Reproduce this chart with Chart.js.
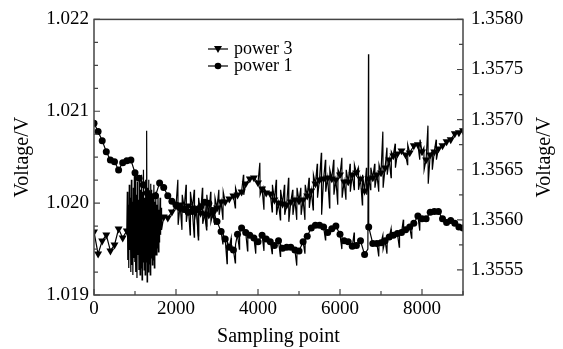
<!DOCTYPE html>
<html>
<head>
<meta charset="utf-8">
<script src="https://cdn.jsdelivr.net/npm/chart.js@4/dist/chart.umd.min.js"></script>
<style>
    html, body { margin: 0; padding: 0; background: #fff; }
    canvas { display: block; }
</style>
</head>
<body>
<canvas id="voltage-chart" width="563" height="349"></canvas>
<script>
// tick labels
let xTicks = [0, 2000, 4000, 6000, 8000];
let leftTicks = [1.019, 1.020, 1.021, 1.022];
let rightTicks = [1.3555, 1.3560, 1.3565, 1.3570, 1.3575, 1.3580];

// [sampling point, voltage] - markers sit on multiples of 100, other samples are raw spikes
let power1 = [
    [0,1.02087],[100,1.02078],[200,1.02068],[300,1.02056],[400,1.02047],[500,1.02045],[600,1.02036],[700,1.02044],
    [800,1.02046],[900,1.02047],[1000,1.02033],[1100,1.02027],[1200,1.02020],[1300,1.02011],[1400,1.02007],[1500,1.02008],
    [1600,1.02022],[1700,1.02017],[1800,1.02008],[1900,1.02002],[2000,1.01998],[2100,1.01995],[2200,1.01993],[2300,1.01990],
    [2400,1.01991],[2445,1.01963],[2452,1.01990],[2500,1.01993],[2545,1.01960],[2552,1.01994],[2600,1.01996],[2700,1.02001],
    [2745,1.01975],[2752,1.02000],[2800,1.02000],[2900,1.01992],[3000,1.01980],[3100,1.01969],[3145,1.01955],[3152,1.01966],
    [3200,1.01961],[3245,1.01934],[3252,1.01958],[3300,1.01952],[3345,1.01962],[3352,1.01950],[3400,1.01949],[3445,1.01935],
    [3452,1.01955],[3500,1.01966],[3545,1.01950],[3552,1.01968],[3600,1.01973],[3700,1.01968],[3745,1.01948],[3752,1.01966],
    [3800,1.01965],[3900,1.01962],[3945,1.01945],[3952,1.01960],[4000,1.01958],[4100,1.01965],[4145,1.01948],[4152,1.01962],
    [4200,1.01961],[4300,1.01958],[4345,1.01945],[4352,1.01956],[4400,1.01954],[4500,1.01959],[4545,1.01942],[4552,1.01955],
    [4600,1.01951],[4700,1.01952],[4800,1.01952],[4900,1.01949],[4945,1.01932],[4952,1.01948],[5000,1.01948],[5100,1.01958],
    [5145,1.01945],[5152,1.01960],[5200,1.01964],[5300,1.01973],[5400,1.01976],[5500,1.01976],[5600,1.01974],[5645,1.01960],
    [5652,1.01972],[5700,1.01968],[5800,1.01972],[5900,1.01975],[6000,1.01966],[6045,1.01950],[6052,1.01962],[6100,1.01959],
    [6200,1.01958],[6300,1.01953],[6345,1.01968],[6352,1.01955],[6400,1.01954],[6500,1.01959],[6600,1.01944],[6680,1.01950],
    [6695,1.02162],[6700,1.01974],[6800,1.01956],[6900,1.01956],[6945,1.01942],[6952,1.01956],[7000,1.01957],[7045,1.01965],
    [7052,1.01950],[7100,1.01959],[7145,1.01945],[7152,1.01960],[7200,1.01963],[7245,1.01972],[7252,1.01962],[7300,1.01965],
    [7400,1.01967],[7445,1.01952],[7452,1.01968],[7500,1.01968],[7545,1.01982],[7552,1.01968],[7600,1.01971],[7700,1.01974],
    [7745,1.01962],[7752,1.01975],[7800,1.01978],[7900,1.01986],[7945,1.01970],[7952,1.01985],[8000,1.01983],[8100,1.01983],
    [8200,1.01990],[8300,1.01991],[8400,1.01991],[8500,1.01983],[8600,1.01979],[8700,1.01981],[8800,1.01978],[8900,1.01974],
    [9000,1.01973]
];

let power3 = [
    [0,1.35588],[100,1.35566],[200,1.35579],[300,1.35585],[400,1.35569],[500,1.35575],[600,1.35591],[700,1.35582],
    // noisy stretch around 800-1650
    [800,1.35589],[812,1.35628],[824,1.35560],[836,1.35615],[848,1.35552],[860,1.35635],[872,1.35570],[884,1.35622],[896,1.35548],
    [900,1.35585],[912,1.35640],[924,1.35555],[936,1.35618],[948,1.35545],[960,1.35632],[972,1.35562],[984,1.35645],[996,1.35558],
    [1000,1.35595],[1012,1.35648],[1024,1.35548],[1036,1.35625],[1048,1.35542],[1060,1.35638],[1072,1.35565],[1084,1.35620],[1096,1.35550],
    [1100,1.35590],[1112,1.35642],[1124,1.35545],[1136,1.35630],[1148,1.35552],[1160,1.35645],[1172,1.35540],[1184,1.35628],[1196,1.35558],
    [1200,1.35592],[1212,1.35650],[1224,1.35550],[1236,1.35622],[1248,1.35545],[1260,1.35640],[1272,1.35558],[1284,1.35689],[1296,1.35538],
    [1300,1.35575],[1312,1.35632],[1324,1.35548],[1336,1.35640],[1348,1.35556],[1360,1.35625],[1372,1.35545],[1384,1.35636],[1396,1.35562],
    [1400,1.35588],[1412,1.35630],[1424,1.35555],[1436,1.35622],[1448,1.35560],[1460,1.35635],[1472,1.35552],[1484,1.35618],[1496,1.35565],
    [1500,1.35596],[1512,1.35628],[1524,1.35565],[1536,1.35615],[1548,1.35572],[1560,1.35625],[1572,1.35568],[1584,1.35610],[1596,1.35578],
    [1600,1.35600],[1612,1.35622],[1624,1.35585],[1636,1.35612],[1648,1.35590],
    [1700,1.35603],[1800,1.35602],[1900,1.35608],[2000,1.35614],[2045,1.35640],[2052,1.35595],[2100,1.35615],[2145,1.35590],
    [2152,1.35625],[2200,1.35612],[2245,1.35635],[2252,1.35598],[2300,1.35614],[2345,1.35585],[2352,1.35628],[2400,1.35612],
    [2445,1.35630],[2452,1.35600],[2500,1.35610],[2545,1.35584],[2552,1.35622],[2600,1.35607],[2645,1.35632],[2652,1.35596],
    [2700,1.35606],[2745,1.35590],[2752,1.35625],[2800,1.35605],[2845,1.35628],[2852,1.35598],[2900,1.35606],[2945,1.35595],
    [2952,1.35622],[3000,1.35612],[3045,1.35630],[3052,1.35605],[3100,1.35618],[3145,1.35600],[3152,1.35628],[3200,1.35618],
    [3300,1.35621],[3400,1.35624],[3445,1.35612],[3452,1.35632],[3500,1.35625],[3600,1.35628],[3645,1.35645],[3652,1.35625],
    [3700,1.35636],[3800,1.35641],[3900,1.35642],[4000,1.35637],[4045,1.35657],[4052,1.35625],[4100,1.35631],[4145,1.35610],
    [4152,1.35632],[4200,1.35627],[4300,1.35626],[4345,1.35608],[4352,1.35635],[4400,1.35620],[4445,1.35640],[4452,1.35605],
    [4500,1.35617],[4545,1.35600],[4552,1.35630],[4600,1.35616],[4645,1.35635],[4652,1.35605],[4700,1.35615],[4745,1.35642],
    [4752,1.35598],[4800,1.35618],[4845,1.35630],[4852,1.35605],[4900,1.35620],[4945,1.35600],[4952,1.35632],[5000,1.35619],
    [5045,1.35632],[5052,1.35605],[5100,1.35620],[5145,1.35600],[5152,1.35635],[5200,1.35624],[5245,1.35642],[5252,1.35612],
    [5300,1.35629],[5345,1.35610],[5352,1.35645],[5400,1.35636],[5445,1.35656],[5452,1.35622],[5500,1.35640],[5545,1.35667],
    [5552,1.35605],[5600,1.35641],[5645,1.35660],[5652,1.35628],[5700,1.35642],[5745,1.35612],[5752,1.35650],[5800,1.35641],
    [5845,1.35660],[5852,1.35625],[5900,1.35640],[5945,1.35615],[5952,1.35650],[6000,1.35645],[6045,1.35662],[6052,1.35622],
    [6100,1.35638],[6145,1.35620],[6152,1.35650],[6200,1.35638],[6245,1.35656],[6252,1.35628],[6300,1.35645],[6345,1.35630],
    [6352,1.35655],[6400,1.35647],[6445,1.35652],[6452,1.35630],[6500,1.35641],[6545,1.35615],[6552,1.35645],[6600,1.35629],
    [6645,1.35652],[6652,1.35625],[6700,1.35641],[6745,1.35630],[6752,1.35652],[6800,1.35642],[6845,1.35656],[6852,1.35632],
    [6900,1.35645],[6945,1.35628],[6952,1.35655],[7000,1.35647],[7045,1.35688],[7052,1.35632],[7100,1.35652],[7145,1.35672],
    [7152,1.35645],[7200,1.35660],[7245,1.35642],[7252,1.35668],[7300,1.35664],[7345,1.35676],[7352,1.35652],[7400,1.35666],
    [7500,1.35669],[7600,1.35665],[7645,1.35655],[7652,1.35675],[7700,1.35667],[7800,1.35674],[7900,1.35675],[7945,1.35660],
    [7952,1.35680],[8000,1.35668],[8045,1.35672],[8052,1.35650],[8100,1.35660],[8145,1.35694],[8152,1.35636],[8200,1.35665],
    [8245,1.35668],[8252,1.35650],[8300,1.35668],[8345,1.35680],[8352,1.35660],[8400,1.35671],[8500,1.35674],[8600,1.35678],
    [8700,1.35680],[8800,1.35686],[8900,1.35687],[9000,1.35689]
];

let toPoints = (arr) => arr.map(p => ({ x: p[0], y: p[1] }));
let markerOnly = (r) => (ctx) => (ctx.raw && ctx.raw.x % 100 === 0 ? r : 0);

//Box, inward ticks, right title and legend
let frame = {
    id: 'frame',
    afterDraw: (chart) => {
        let ctx = chart.ctx;
        let a = chart.chartArea;
        let sx = chart.scales.x, sl = chart.scales.y, sr = chart.scales.y1;

        ctx.save();
        ctx.strokeStyle = '#444';
        ctx.lineWidth = 1.5;
        ctx.strokeRect(a.left, a.top, a.right - a.left, a.bottom - a.top);

        ctx.lineWidth = 1.2;
        ctx.beginPath();
        for (let v = 0; v <= 9000; v += 1000) {
            let x = sx.getPixelForValue(v);
            let len = v % 2000 === 0 ? 6 : 4;
            ctx.moveTo(x, a.bottom); ctx.lineTo(x, a.bottom - len);
        }
        for (let k = 0; k <= 12; k++) {
            let y = sl.getPixelForValue(1.019 + k * 0.00025);
            let len = k % 4 === 0 ? 6 : 4;
            ctx.moveTo(a.left, y); ctx.lineTo(a.left + len, y);
        }
        for (let k = 0; k <= 10; k++) {
            let y = sr.getPixelForValue(1.3555 + k * 0.00025);
            let len = k % 2 === 0 ? 6 : 4;
            ctx.moveTo(a.right, y); ctx.lineTo(a.right - len, y);
        }
        ctx.stroke();

        // right axis title, reads bottom to top like the left one
        ctx.fillStyle = '#000';
        ctx.font = '20px "Liberation Serif"';
        ctx.textAlign = 'center';
        ctx.textBaseline = 'middle';
        ctx.translate(545, (a.top + a.bottom) / 2);
        ctx.rotate(-Math.PI / 2);
        ctx.fillText('Voltage/V', 0, 0);
        ctx.restore();

        // legend
        ctx.save();
        ctx.strokeStyle = '#000';
        ctx.fillStyle = '#000';
        ctx.lineWidth = 1.2;
        let rows = [{ label: 'power 3', y: 49, tri: true }, { label: 'power 1', y: 66, tri: false }];
        rows.forEach(r => {
            ctx.beginPath();
            ctx.moveTo(208, r.y); ctx.lineTo(228, r.y);
            ctx.stroke();
            ctx.beginPath();
            if (r.tri) {
                ctx.moveTo(214, r.y - 3); ctx.lineTo(222, r.y - 3); ctx.lineTo(218, r.y + 4);
            } else {
                ctx.arc(218, r.y, 3.3, 0, Math.PI * 2);
            }
            ctx.closePath();
            ctx.fill();
            ctx.font = '18px "Liberation Serif"';
            ctx.textBaseline = 'middle';
            ctx.fillText(r.label, 234, r.y);
        });
        ctx.restore();
    }
};

Chart.defaults.font.family = '"Liberation Serif", "Times New Roman", serif';
Chart.defaults.color = '#000';

let voltageChart = document.getElementById('voltage-chart').getContext('2d');

let chart = new Chart(voltageChart, {
    type: 'line',
    data: {
        datasets: [{
            label: 'power 3',
            data: toPoints(power3),
            yAxisID: 'y1',
            borderColor: '#000',
            backgroundColor: '#000',
            borderWidth: 1.2,
            pointStyle: 'triangle',
            rotation: 180,
            pointRadius: markerOnly(4.6),
            pointBorderWidth: 0,
            tension: 0
        }, {
            label: 'power 1',
            data: toPoints(power1),
            yAxisID: 'y',
            borderColor: '#000',
            backgroundColor: '#000',
            borderWidth: 1.2,
            pointStyle: 'circle',
            pointRadius: markerOnly(3.5),
            pointBorderWidth: 0,
            tension: 0
        }]
    },
    options: {
        responsive: false,
        animation: false,
        devicePixelRatio: 1,
        layout: { padding: { top: 14, left: 0, right: 0, bottom: 0 } },
        plugins: {
            legend: { display: false },
            tooltip: { enabled: false }
        },
        scales: {
            x: {
                type: 'linear',
                min: 0,
                max: 9000,
                afterFit: (s) => { s.height = 54; },
                afterBuildTicks: (s) => { s.ticks = xTicks.map(v => ({ value: v })); },
                grid: { display: false, drawTicks: false },
                border: { display: false },
                ticks: { padding: 3, font: { size: 19 }, maxRotation: 0, callback: (v) => String(v) },
                title: { display: true, text: 'Sampling point', font: { size: 20 }, padding: { top: 6, bottom: 0 } }
            },
            y: {
                position: 'left',
                min: 1.019,
                max: 1.022,
                afterFit: (s) => { s.width = 94; },
                afterBuildTicks: (s) => { s.ticks = leftTicks.map(v => ({ value: v })); },
                grid: { display: false, drawTicks: false },
                border: { display: false },
                ticks: { padding: 5, font: { size: 19 }, callback: (v) => Number(v).toFixed(3) },
                title: { display: true, text: 'Voltage/V', font: { size: 20 }, padding: { top: 11, bottom: 0 } }
            },
            y1: {
                position: 'right',
                min: 1.35525,
                max: 1.3580,
                afterFit: (s) => { s.width = 100; },
                afterBuildTicks: (s) => { s.ticks = rightTicks.map(v => ({ value: v })); },
                grid: { display: false, drawTicks: false },
                border: { display: false },
                ticks: { padding: 8, font: { size: 19 }, callback: (v) => Number(v).toFixed(4) }
            }
        }
    },
    plugins: [frame]
});
</script>
</body>
</html>
